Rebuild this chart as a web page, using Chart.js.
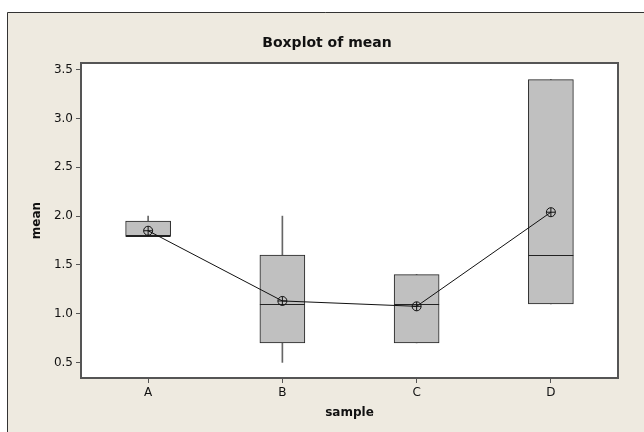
<!DOCTYPE html>
<html>
<head>
<meta charset="utf-8">
<script src="https://cdn.jsdelivr.net/npm/chart.js@4"></script>
<style>
  html, body { margin: 0; padding: 0; background: #ffffff; }
  #wrap { position: relative; width: 644px; height: 432px; }
  #chart { position: absolute; left: 0; top: 0; }
</style>
</head>
<body>
<div id="wrap"><canvas id="chart" width="644" height="432"></canvas></div>
<script>
// ─── DATA ─────────────────────────────────────────────
const samples   = ['A', 'B', 'C', 'D'];
const q1        = [1.80, 0.70, 0.70, 1.10];
const q3        = [1.95, 1.60, 1.40, 3.40];
const medians   = [1.80, 1.10, 1.10, 1.60];
const whiskLow  = [1.80, 0.50, 0.70, 1.10];
const whiskHigh = [2.00, 2.00, 1.40, 3.40];
const means     = [1.85, 1.13, 1.075, 2.04];
const yTicks    = [0.5, 1.0, 1.5, 2.0, 2.5, 3.0, 3.5];

const FONT = '"DejaVu Sans", Verdana, sans-serif';
const BG   = '#EEEAE0';

// frame, plot background, title and medians
const decor = {
    id: 'decor',
    beforeDraw(chart) {
        const { ctx, chartArea: a } = chart;
        ctx.save();
        ctx.fillStyle = BG;
        ctx.fillRect(7, 12, chart.width - 7, chart.height - 12);
        ctx.strokeStyle = '#333';
        ctx.lineWidth = 1;
        ctx.beginPath();
        ctx.moveTo(7.5, chart.height);
        ctx.lineTo(7.5, 12.5);
        ctx.lineTo(chart.width, 12.5);
        ctx.stroke();
        ctx.fillStyle = '#ffffff';
        ctx.fillRect(a.left, a.top, a.right - a.left, a.bottom - a.top);
        // title
        ctx.fillStyle = '#111';
        ctx.font = 'bold 14px ' + FONT;
        ctx.textAlign = 'center';
        ctx.textBaseline = 'middle';
        ctx.fillText('Boxplot of mean', 327, 43);
        ctx.restore();
    },
    afterDatasetDraw(chart, args) {
        if (args.index !== 2) return;
        const { ctx } = chart;
        const y = chart.scales.y;
        ctx.save();
        ctx.strokeStyle = '#222';
        ctx.lineWidth = 1;
        args.meta.data.forEach((bar, i) => {
            const py = Math.round(y.getPixelForValue(medians[i])) + 0.5;
            ctx.beginPath();
            ctx.moveTo(bar.x - bar.width / 2, py);
            ctx.lineTo(bar.x + bar.width / 2, py);
            ctx.stroke();
        });
        ctx.restore();
    },
    afterDraw(chart) {
        const { ctx, chartArea: a } = chart;
        ctx.save();
        ctx.strokeStyle = '#555';
        ctx.lineWidth = 2;
        ctx.strokeRect(a.left, a.top, a.right - a.left, a.bottom - a.top);
        ctx.restore();
    }
};

new Chart(document.getElementById('chart'), {
    type: 'bar',
    data: {
        labels: samples,
        datasets: [
            {
                type: 'line',
                label: 'mean',
                data: means,
                borderColor: '#111',
                borderWidth: 1,
                pointStyle: 'circle',
                pointRadius: 4.5,
                pointBorderWidth: 1,
                pointBackgroundColor: 'rgba(0,0,0,0)',
                pointBorderColor: '#111',
                order: 0
            },
            {
                type: 'line',
                label: 'mean cross',
                data: means,
                showLine: false,
                pointStyle: 'cross',
                pointRadius: 4.5,
                pointBorderWidth: 1,
                pointBorderColor: '#111',
                order: 0
            },
            {
                label: 'box',
                data: samples.map((s, i) => [q1[i], q3[i]]),
                backgroundColor: '#C0C0C0',
                borderColor: '#222',
                borderWidth: 1,
                borderSkipped: false,
                barThickness: 45,
                grouped: false,
                order: 1
            },
            {
                label: 'whisker',
                data: samples.map((s, i) => [whiskLow[i], whiskHigh[i]]),
                backgroundColor: '#666',
                borderWidth: 0,
                barThickness: 1,
                grouped: false,
                order: 2
            }
        ]
    },
    options: {
        responsive: false,
        animation: false,
        layout: { padding: { left: 0, top: 63, right: 26, bottom: 0 } },
        plugins: {
            legend: { display: false },
            tooltip: { enabled: false },
            title: { display: false }
        },
        scales: {
            x: {
                offset: true,
                afterFit: (s) => { s.height = 54; },
                grid: { offset: false, drawOnChartArea: false, drawTicks: true, tickLength: 5, tickColor: '#555' },
                border: { display: false },
                ticks: { color: '#111', padding: 3, font: { family: FONT, size: 12 } },
                title: {
                    display: true,
                    text: 'sample',
                    color: '#111',
                    font: { family: FONT, size: 12, weight: 'bold' },
                    padding: { top: 0, bottom: 12 }
                }
            },
            y: {
                min: 0.34,
                max: 3.57,
                afterFit: (s) => { s.width = 81; },
                afterBuildTicks: (s) => { s.ticks = yTicks.map(v => ({ value: v })); },
                grid: { drawOnChartArea: false, drawTicks: true, tickLength: 5, tickColor: '#555' },
                border: { display: false },
                ticks: {
                    color: '#111',
                    padding: 3,
                    font: { family: FONT, size: 12 },
                    callback: (v) => Number(v).toFixed(1)
                },
                title: {
                    display: true,
                    text: 'mean',
                    color: '#111',
                    font: { family: FONT, size: 12, weight: 'bold' },
                    padding: { top: 30, bottom: 0 }
                }
            }
        }
    },
    plugins: [decor]
});
</script>
</body>
</html>
